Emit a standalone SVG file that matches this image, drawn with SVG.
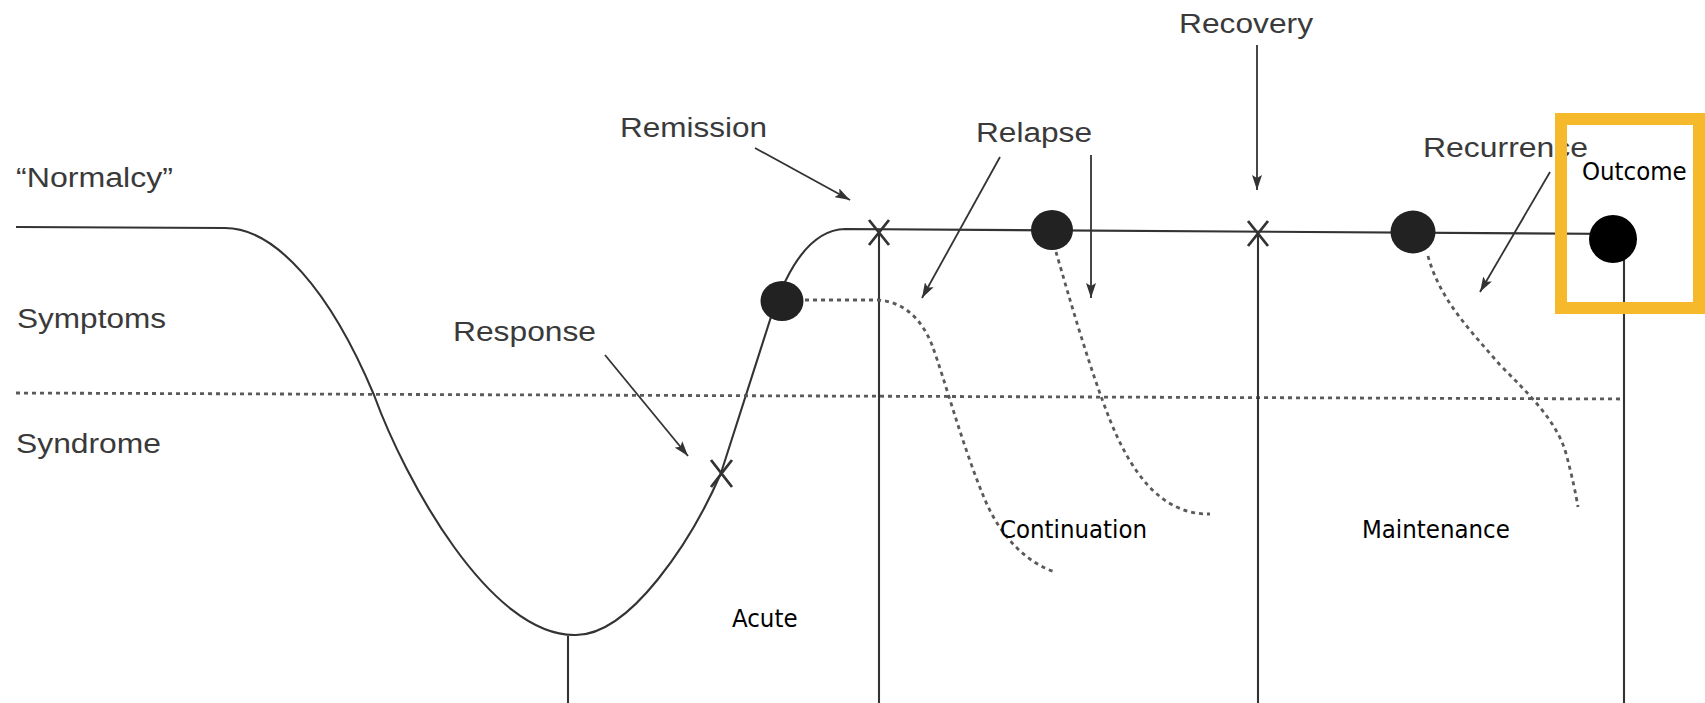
<svg xmlns="http://www.w3.org/2000/svg" width="1705" height="703" viewBox="0 0 1705 703">
<style>
.scan{font-family:"Liberation Sans",Arial,sans-serif;font-size:27px;fill:#3a3a3a}
.lbl{font-family:"DejaVu Sans Condensed","DejaVu Sans",sans-serif;font-size:25.5px;fill:#000}
.ln{fill:none;stroke:#333;stroke-width:2.1}
.x{fill:none;stroke:#333;stroke-width:2.8}
.dot{fill:none;stroke:#5a5a5a;stroke-width:2.8;stroke-dasharray:4 4}
.arr{fill:none;stroke:#333;stroke-width:1.8;marker-end:url(#ah)}
.blob{fill:#222}
</style>
<defs>
<marker id="ah" viewBox="0 0 15 10" refX="15" refY="5" markerWidth="15" markerHeight="10" markerUnits="userSpaceOnUse" orient="auto">
<path d="M0,0 L15,5 L0,10 L3,5 z" fill="#333"/>
</marker>
</defs>
<rect width="1705" height="703" fill="#fff"/>

<g id="axes">
<path class="ln" d="M16 227 L225 228 C275 228 330 290 374 395 C405 480 490 636 575 635 C630 636 692 540 721 473 L770 320 C776 302 798 230 845 229 L1624 234"/>
<line class="dot" x1="16" y1="393" x2="1624" y2="399"/>
<line class="ln" x1="568" y1="636" x2="568" y2="703"/>
<line class="ln" x1="879" y1="232" x2="879" y2="703"/>
<line class="ln" x1="1258" y1="233" x2="1258" y2="703"/>
<line class="ln" x1="1624" y1="234" x2="1624" y2="703"/>
</g>

<g id="marks">
<path class="x" d="M711 460 L732 487 M732 460 L711 487"/>
<path class="x" d="M869 220 L889 245 M889 220 L869 245"/>
<path class="x" d="M1248 221 L1268 246 M1268 221 L1248 246"/>
</g>

<g id="relapse-curves">
<path class="dot" d="M805 300 L878 300 C905 302 922 320 932 345 C945 380 962 445 985 500 C1000 535 1025 562 1055 572"/>
<path class="dot" d="M1056 252 C1070 300 1090 370 1110 420 C1130 470 1160 515 1210 514"/>
<path class="dot" d="M1428 256 C1440 300 1470 330 1500 365 C1530 395 1555 420 1565 450 C1572 475 1576 495 1578 507"/>
</g>

<g id="points">
<ellipse class="blob" cx="782" cy="301" rx="21.5" ry="20"/>
<ellipse class="blob" cx="1052" cy="230" rx="21" ry="20"/>
<ellipse class="blob" cx="1413" cy="232" rx="22.5" ry="21.5"/>
</g>

<g id="connectors">
<line class="arr" x1="755" y1="148" x2="850" y2="200"/>
<line class="arr" x1="605" y1="355" x2="688" y2="456"/>
<line class="arr" x1="1000" y1="157" x2="922" y2="298"/>
<line class="arr" x1="1091" y1="155" x2="1091" y2="298"/>
<line class="arr" x1="1257" y1="45" x2="1257" y2="190"/>
<line class="arr" x1="1550" y1="172" x2="1480" y2="292"/>
</g>

<g id="levels">
<text class="scan" x="16" y="187" textLength="157" lengthAdjust="spacingAndGlyphs">“Normalcy”</text>
<text class="scan" x="17" y="328" textLength="149" lengthAdjust="spacingAndGlyphs">Symptoms</text>
<text class="scan" x="16" y="453" textLength="145" lengthAdjust="spacingAndGlyphs">Syndrome</text>
</g>

<g id="event-labels">
<text class="scan" x="620" y="137" textLength="147" lengthAdjust="spacingAndGlyphs">Remission</text>
<text class="scan" x="453" y="341" textLength="143" lengthAdjust="spacingAndGlyphs">Response</text>
<text class="scan" x="976" y="142" textLength="116" lengthAdjust="spacingAndGlyphs">Relapse</text>
<text class="scan" x="1179" y="33" textLength="134" lengthAdjust="spacingAndGlyphs">Recovery</text>
<text class="scan" x="1423" y="157" textLength="165" lengthAdjust="spacingAndGlyphs">Recurrence</text>
</g>

<g id="phases">
<text class="lbl" x="732" y="627">Acute</text>
<text class="lbl" x="1000" y="538">Continuation</text>
<text class="lbl" x="1362" y="538">Maintenance</text>
</g>

<g id="outcome">
<rect x="1561" y="119" width="138" height="189" fill="none" stroke="#F6B92B" stroke-width="12"/>
<text class="lbl" x="1582" y="180">Outcome</text>
<circle cx="1613" cy="239" r="24" fill="#000"/>
</g>
</svg>
